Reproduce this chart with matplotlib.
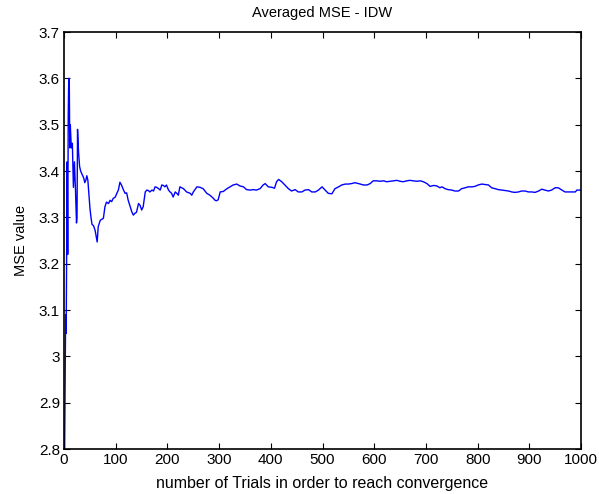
import numpy as np
import matplotlib
matplotlib.use("Agg")
import matplotlib.pyplot as plt

# trial number / averaged MSE
trials = [1, 2, 3, 4, 5, 6, 7, 8, 9, 10, 11, 12, 14, 16, 18, 20, 22, 24, 25, 26,
          28, 30, 32, 34, 36, 38, 40, 42, 44, 46, 48, 50, 52, 54, 57, 60, 62, 64,
          66, 68, 70, 73, 76, 79, 82, 86, 89, 92, 95, 99, 102, 105, 108, 111, 115,
          118, 121, 124, 128, 131, 134, 137, 140, 144, 147, 150, 153, 157, 160, 163,
          166, 170, 173, 176, 179, 183, 186, 189, 192, 195, 198, 202, 205, 208, 211,
          215, 218, 221, 224, 231, 237, 244, 247, 250, 257, 263, 269, 276, 282, 289,
          292, 295, 298, 302, 308, 315, 321, 327, 334, 340, 347, 353, 360, 366, 372,
          379, 385, 389, 395, 402, 407, 411, 415, 421, 427, 434, 440, 447, 453, 460,
          466, 473, 479, 486, 492, 499, 505, 511, 518, 524, 531, 537, 544, 550, 556,
          563, 566, 573, 579, 586, 592, 598, 605, 611, 618, 624, 631, 637, 644, 650,
          656, 663, 669, 676, 682, 689, 695, 702, 708, 715, 721, 727, 731, 737, 743,
          750, 756, 763, 769, 776, 782, 789, 795, 801, 808, 814, 821, 827, 834, 840,
          847, 853, 860, 866, 872, 879, 885, 892, 898, 905, 911, 918, 924, 930, 937,
          943, 950, 956, 963, 969, 976, 982, 989, 992, 1000]
mse = [2.79, 2.93, 3.09, 3.05, 3.23, 3.42, 3.22, 3.52, 3.60, 3.60, 3.45, 3.50, 3.45, 3.46,
       3.365, 3.42, 3.36, 3.288, 3.30, 3.49, 3.44, 3.41, 3.40, 3.395, 3.39, 3.385, 3.375,
       3.38, 3.39, 3.38, 3.35, 3.32, 3.30, 3.285, 3.282, 3.272, 3.26, 3.247, 3.28, 3.287,
       3.294, 3.296, 3.298, 3.323, 3.333, 3.33, 3.337, 3.334, 3.341, 3.344, 3.352, 3.359,
       3.376, 3.37, 3.359, 3.352, 3.353, 3.337, 3.323, 3.312, 3.305, 3.309, 3.311, 3.33,
       3.326, 3.316, 3.323, 3.355, 3.359, 3.358, 3.355, 3.359, 3.357, 3.366, 3.365, 3.362,
       3.359, 3.37, 3.369, 3.366, 3.37, 3.359, 3.355, 3.352, 3.344, 3.355, 3.352, 3.348,
       3.366, 3.362, 3.355, 3.352, 3.348, 3.355, 3.366, 3.365, 3.362, 3.352, 3.348, 3.341,
       3.337, 3.336, 3.338, 3.355, 3.356, 3.362, 3.366, 3.37, 3.372, 3.368, 3.366, 3.36,
       3.359, 3.36, 3.359, 3.362, 3.37, 3.373, 3.366, 3.365, 3.363, 3.377, 3.382, 3.377,
       3.37, 3.362, 3.357, 3.36, 3.355, 3.355, 3.359, 3.36, 3.355, 3.355, 3.359, 3.366,
       3.359, 3.352, 3.351, 3.362, 3.366, 3.37, 3.372, 3.372, 3.373, 3.375, 3.374, 3.372,
       3.37, 3.37, 3.373, 3.379, 3.379, 3.378, 3.379, 3.377, 3.378, 3.379, 3.38, 3.378,
       3.377, 3.379, 3.38, 3.379, 3.378, 3.379, 3.377, 3.373, 3.367, 3.369, 3.368, 3.364,
       3.366, 3.362, 3.36, 3.359, 3.357, 3.357, 3.362, 3.364, 3.366, 3.366, 3.367, 3.37,
       3.372, 3.371, 3.37, 3.364, 3.362, 3.36, 3.359, 3.358, 3.357, 3.355, 3.354, 3.355,
       3.357, 3.357, 3.355, 3.355, 3.354, 3.357, 3.361, 3.359, 3.357, 3.359, 3.364, 3.364,
       3.359, 3.355, 3.355, 3.355, 3.355, 3.359, 3.359]

plt.rcParams['font.family'] = ['Liberation Sans', 'DejaVu Sans']

fig = plt.figure(figsize=(5.99, 4.94), dpi=100)
ax = fig.add_axes([0.107, 0.091, 0.863, 0.844])

ax.plot(trials, mse, color='#0000ff', linewidth=1.0)

ax.set_xlim(0, 1000)
ax.set_ylim(2.8, 3.7)
ax.set_xticks(np.arange(0, 1001, 100))
ax.set_yticks(np.arange(2.8, 3.71, 0.1))
ax.set_yticklabels(['2.8', '2.9', '3', '3.1', '3.2', '3.3', '3.4', '3.5', '3.6', '3.7'])
ax.tick_params(direction='in', top=True, right=True, labelsize=11, length=4, width=0.8,
               pad=3)
for s in ax.spines.values():
    s.set_linewidth(1.2)

ax.set_title('Averaged MSE - IDW', fontsize=10.5, pad=11)
ax.set_xlabel('number of Trials in order to reach convergence', fontsize=11.5, labelpad=6)
ax.set_ylabel('MSE value', fontsize=10.5, labelpad=8)

fig.savefig('out.png', dpi=100)
